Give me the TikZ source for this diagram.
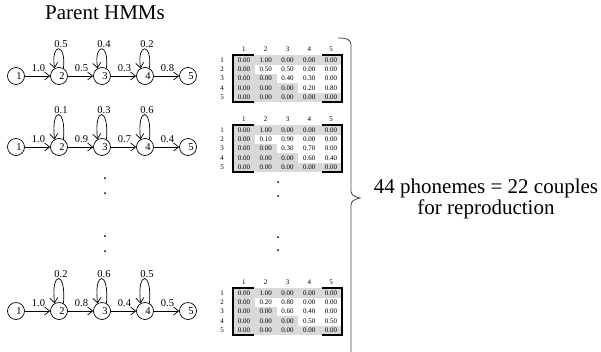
\documentclass[tikz,border=0pt]{standalone}
\usepackage{fontspec}
\setmainfont{Liberation Serif}
\usetikzlibrary{arrows.meta,calc}
\definecolor{cellgray}{RGB}{217,217,217}
\definecolor{bracegray}{RGB}{70,70,70}
\tikzset{
  st/.style={circle,draw,line width=0.7pt,minimum size=17pt,inner sep=0pt},
  stnum/.style={font=\fontsize{10.5}{12}\selectfont,inner sep=0pt},
  prob/.style={font=\fontsize{10.5}{12}\selectfont,inner sep=0pt},
  tr/.style={line width=0.7pt,-{Straight Barb[length=5pt,width=8pt,line width=0.7pt]}},
  mnum/.style={font=\fontsize{7}{8}\selectfont,inner sep=0pt},
  bigtxt/.style={font=\fontsize{21}{18}\selectfont,inner sep=0pt,align=center},
  thickbr/.style={line width=2pt,line cap=rect,line join=miter},
  dotmark/.style={circle,fill,inner sep=0pt,minimum size=2pt}
}
\def\looph{38}
\newcommand\hmmrow[9]{%
  \foreach \i/\xx in {1/16,2/59,3/102,4/145,5/188}{
    \node[st] (#1s\i) at (\xx,#2) {};
    \node[stnum] (#1t\i) at (\xx+3,#2) {\i};
  }
  \draw[tr] (#1s1) -- node[prob,yshift=7.5pt,xshift=1pt] (#1p1) {#6} (#1s2);
  \draw[tr] (#1s2) -- node[prob,yshift=7.5pt,xshift=1pt] (#1p2) {#7} (#1s3);
  \draw[tr] (#1s3) -- node[prob,yshift=7.5pt,xshift=1pt] (#1p3) {#8} (#1s4);
  \draw[tr] (#1s4) -- node[prob,yshift=7.5pt,xshift=1pt] (#1p4) {#9} (#1s5);
  \foreach \k/\lab in {2/#3,3/#4,4/#5}{
    \draw[tr] (#1s\k.60) .. controls ($(#1s\k.60)+(3,-\looph)$) and ($(#1s\k.120)+(-4,-\looph)$) .. (#1s\k.120);
    \node[prob] (#1l\k) at ($(#1s\k)+(2,-0.75*\looph-12)$) {\lab};
  }
}
\newcommand\tmat[7]{%
  \fill[cellgray] (233,#2-4.65) rectangle (342,#2+41.85);
  \fill[white] (254.8,#2+4.65) rectangle (342,#2+13.95);
  \fill[white] (276.6,#2+13.95) rectangle (342,#2+23.25);
  \fill[white] (298.4,#2+23.25) rectangle (342,#2+32.55);
  \foreach \c in {1,...,5}{
    \node[mnum] (#1h\c) at (222.1+21.8*\c,#2-10.5) {\c};
  }
  \foreach \r/\rowlist in {1/{#3},2/{#4},3/{#5},4/{#6},5/{#7}}{
    \node[mnum] (#1r\r) at (222,#2+9.3*\r-9.3) {\r};
    \foreach \v [count=\c] in \rowlist {
      \node[mnum] (#1v\r\c) at (222.1+21.8*\c,#2+9.3*\r-9.3) {\v};
    }
  }
  \draw[thickbr] (253,#2-4.65) -- (233,#2-4.65) -- (233,#2+41.85) -- (253,#2+41.85);
  \draw[thickbr] (323,#2-4.65) -- (342,#2-4.65) -- (342,#2+41.85) -- (323,#2+41.85);
}
\begin{document}
\begin{tikzpicture}[x=1pt,y=-1pt]
\useasboundingbox (0,0) rectangle (601,351);
\node[bigtxt] (title) at (105,13) {Parent HMMs};

\def\looph{26}
\hmmrow{a}{76}{0.5}{0.4}{0.2}{1.0}{0.5}{0.3}{0.8}
\def\looph{33}
\hmmrow{b}{147}{0.1}{0.3}{0.6}{1.0}{0.9}{0.7}{0.4}
\hmmrow{c}{311}{0.2}{0.6}{0.5}{1.0}{0.8}{0.4}{0.5}

\tmat{ma}{60}{0.00,1.00,0.00,0.00,0.00}{0.00,0.50,0.50,0.00,0.00}{0.00,0.00,0.40,0.30,0.00}{0.00,0.00,0.00,0.20,0.80}{0.00,0.00,0.00,0.00,0.00}
\tmat{mb}{130}{0.00,1.00,0.00,0.00,0.00}{0.00,0.10,0.90,0.00,0.00}{0.00,0.00,0.30,0.70,0.00}{0.00,0.00,0.00,0.60,0.40}{0.00,0.00,0.00,0.00,0.00}
\tmat{mc}{293}{0.00,1.00,0.00,0.00,0.00}{0.00,0.20,0.80,0.00,0.00}{0.00,0.00,0.60,0.40,0.00}{0.00,0.00,0.00,0.50,0.50}{0.00,0.00,0.00,0.00,0.00}

\foreach \yy [count=\n] in {178,193,236,251}{
  \node[dotmark] (ld\n) at (105,\yy) {};
}
\foreach \yy [count=\n] in {182,196,237,250}{
  \node[dotmark] (md\n) at (278,\yy) {};
}

\draw[bracegray,line width=0.8pt] (338,38) .. controls (347,38) and (351,39) .. (351,46)
  -- (351,191) .. controls (351,195) and (355,197) .. (360,198)
  .. controls (355,199) and (351,201) .. (351,205) -- (351,360);

\node[bigtxt] (note) at (486,199) {44 phonemes = 22 couples\\for reproduction};
\end{tikzpicture}
\end{document}
